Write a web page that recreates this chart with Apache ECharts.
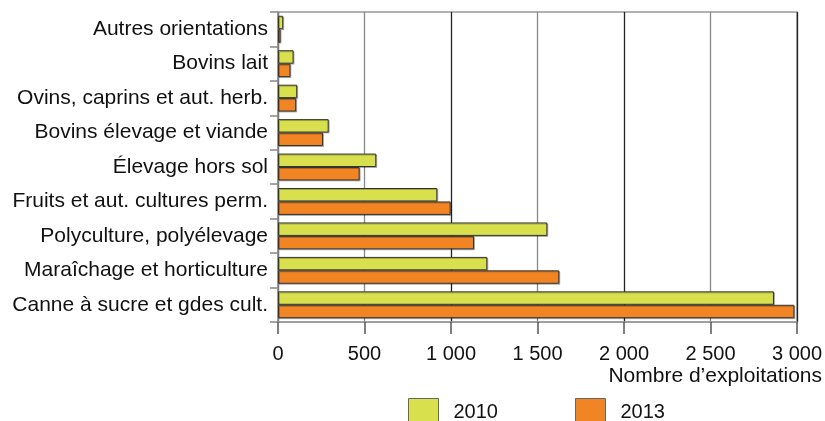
<!DOCTYPE html>
<html>
<head>
<meta charset="utf-8">
<script src="https://cdn.jsdelivr.net/npm/echarts@6/dist/echarts.min.js"></script>
<style>
html,body{margin:0;padding:0;background:#fff;}
#c{width:825px;height:421px;}
</style>
</head>
<body>
<div id="c"></div>
<script>
const categories = [
  'Autres orientations',
  'Bovins lait',
  'Ovins, caprins et aut. herb.',
  'Bovins élevage et viande',
  'Élevage hors sol',
  'Fruits et aut. cultures perm.',
  'Polyculture, polyélevage',
  'Maraîchage et horticulture',
  'Canne à sucre et gdes cult.'
];
const values2010 = [30, 90, 111, 293, 568, 921, 1557, 1210, 2867];
const values2013 = [15, 72, 105, 260, 472, 998, 1133, 1626, 2985];
const xTickLabels = ['0', '500', '1 000', '1 500', '2 000', '2 500', '3 000'];
const axisTitle = 'Nombre d’exploitations';
const seriesNames = ['2010', '2013'];

const FONT = "'Liberation Sans', Arial, sans-serif";
const chart = echarts.init(document.getElementById('c'), null, {renderer: 'canvas'});
const barStyle = (color) => ({
  color: color,
  borderColor: '#333',
  borderWidth: 1,
  shadowColor: 'rgba(0,0,0,0.25)',
  shadowOffsetX: 1,
  shadowOffsetY: 1,
  shadowBlur: 0
});
chart.setOption({
  animation: false,
  backgroundColor: '#fff',
  title: {
    text: axisTitle,
    right: 3,
    top: 366,
    padding: 0,
    textStyle: {fontFamily: FONT, fontSize: 21, fontWeight: 'normal', color: '#111'}
  },
  legend: {
    left: 408,
    top: 398,
    padding: 0,
    itemWidth: 30,
    itemHeight: 28,
    itemGap: 77,
    icon: 'rect',
    data: seriesNames,
    itemStyle: {borderColor: '#666', borderWidth: 1, shadowColor: 'transparent'},
    textStyle: {fontFamily: FONT, fontSize: 20, color: '#111', padding: [0, 0, 0, 10]}
  },
  grid: {
    left: 278, right: 28, top: 12, bottom: 99,
    show: true, borderColor: '#999', borderWidth: 1.5,
    containLabel: false
  },
  xAxis: {
    type: 'value',
    min: 0, max: 3000, interval: 500,
    axisLine: {show: true, lineStyle: {color: '#999', width: 1.5}},
    axisTick: {show: true, length: 12, lineStyle: {color: '#555', width: 1.5}},
    axisLabel: {
      margin: 22,
      fontFamily: FONT, fontSize: 20, color: '#111',
      formatter: (v) => xTickLabels[Math.round(v / 500)]
    },
    splitLine: {show: true, lineStyle: {color: ['#222', '#888'], width: 1.3}}
  },
  yAxis: {
    type: 'category',
    inverse: true,
    data: categories,
    axisLine: {show: true, lineStyle: {color: '#999', width: 1.5}},
    axisTick: {show: true, length: 8, lineStyle: {color: '#888', width: 1.5}},
    axisLabel: {margin: 10, fontFamily: FONT, fontSize: 21, color: '#111'},
    splitLine: {show: false}
  },
  series: [
    {
      name: seriesNames[0], type: 'bar', data: values2010,
      barGap: '0%', barCategoryGap: '22%',
      itemStyle: barStyle('#d9e04d')
    },
    {
      name: seriesNames[1], type: 'bar', data: values2013,
      barGap: '0%', barCategoryGap: '22%',
      itemStyle: barStyle('#f28523')
    }
  ]
});
</script>
</body>
</html>
